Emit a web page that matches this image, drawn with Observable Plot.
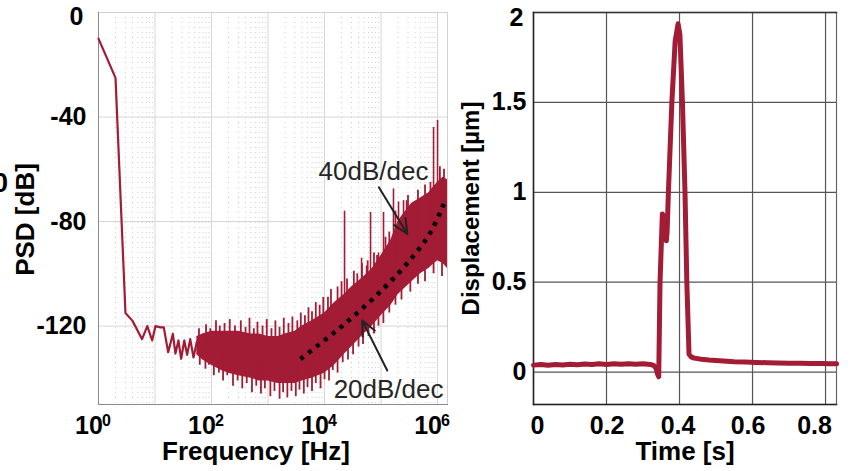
<!DOCTYPE html>
<html><head><meta charset="utf-8">
<script src="https://cdn.jsdelivr.net/npm/d3@7"></script>
<script src="https://cdn.jsdelivr.net/npm/@observablehq/plot@0.6"></script>
<style>
html,body{margin:0;padding:0;background:#fff;}
#wrap{position:relative;width:851px;height:471px;overflow:hidden;background:#fff;}
#left,#right{position:absolute;top:0;}
#left{left:0;} #right{left:440px;}
</style></head><body><div id="wrap"><div id="left"></div><div id="right"></div></div>
<script>
// ---------- Left panel data (PSD) ----------
const lowFreq = [1, 2, 3, 4, 5.9, 7.3, 8.9, 10.2, 12.5, 14.3, 17.1, 20.7, 23, 26, 29, 33, 37, 42, 48, 55, 64];
const lowDb   = [-10, -25, -115, -118, -125, -120, -125.5, -120, -120.5, -120.5, -130, -123, -130.5, -125.5, -132.5, -125.5, -131, -125, -132, -126, -130];

// envelope of the dense noise band
const bandFreq = [55, 70, 100, 150, 200, 300, 500, 700, 1000, 1500, 2000, 3000, 4000, 6000, 10000, 15000, 22000, 30000,
  50000, 70000, 100000, 150000, 200000, 250000, 350000, 500000, 700000, 1000000, 1250000, 1500000];
const bandLo = [-131, -133, -135, -137, -138, -139, -140, -141, -141, -142, -142, -142, -141, -140, -138, -135, -131, -128,
  -123, -120, -116, -112, -108, -106, -103, -100, -98, -95, -96, -98];
const bandHi = [-124, -123, -122, -122, -122, -122, -123, -123, -124, -124, -123, -122, -120, -118, -115, -111, -108, -105,
  -101, -98, -93, -87, -80, -77, -73, -71, -69, -65, -63, -64];

// noise spikes above the band
const upFreq = [60, 80, 95, 120, 140, 170, 210, 260, 330, 400, 470, 560, 650, 800, 950, 1150, 1350, 1600, 1900, 2300, 2700,
  3300, 3800, 4500, 5200, 6000, 7000, 8200, 9500, 11500, 13000, 17000, 20000, 25000, 33000, 38000, 46000, 58000, 75000,
  85000, 120000, 140000, 180000, 300000, 450000, 600000, 750000, 1100000, 1300000];
const upDb = [-121, -119.5, -121, -118, -120, -119, -117.5, -120, -118, -120.5, -117, -121, -118.5, -120, -117.5, -121, -118,
  -120.5, -117, -119, -116.5, -118, -115, -116, -113, -114.5, -111, -112, -109, -109, -106, -105, -103, -102, -99, -100, -96,
  -95, -92, -93, -86, -84, -76, -70, -68, -66, -65, -59, -60];
// noise spikes below the band
const downFreq = [62, 78, 90, 110, 135, 160, 190, 240, 290, 350, 420, 520, 620, 750, 880, 1100, 1300, 1600, 1850, 2200, 2600,
  3100, 3600, 4300, 5000, 6000, 7000, 8500, 10000, 12000, 14000, 17000, 21000, 26000, 32000, 40000, 48000, 60000, 75000,
  90000, 110000, 140000, 180000, 230000, 330000, 450000, 600000, 850000, 1200000];
const downDb = [-135, -136.5, -135, -139, -138, -141, -139, -143, -141, -144, -142, -145.5, -143, -146, -144, -147, -145, -148,
  -145.5, -147.5, -145, -147, -144.5, -146, -143.5, -145, -142, -144, -140.5, -141, -137, -138, -134, -133, -131, -128, -127,
  -124, -123, -120, -119, -115, -112, -110, -107, -104, -103, -100, -101];

// tall harmonic spikes
const peakFreq = [22600, 45200, 55400, 65200, 90300, 110600, 166000, 204000, 250000, 283000, 850000, 1000000];
const peakDb   = [-76, -94, -97, -76.5, -92, -76.5, -67.5, -72.5, -72, -72, -44, -41.3];

const fitFreq = [3760, 22000, 109000, 357000, 752000, 1290000];
const fitDb   = [-132.6, -119.4, -105.8, -93.7, -84.1, -73.2];

const noteText = ["40dB/dec", "20dB/dec"];
const noteFreq = [73600, 136000];
const noteDb   = [-60.9, -144.3];
const arrowF1 = [91400, 128800], arrowDb1 = [-66.9, -137.0];
const arrowF2 = [291000, 46500], arrowDb2 = [-84.7, -117.9];

const psdTicks = [0, -40, -80, -120];
const freqTicks = [1, 1e2, 1e4, 1e6];
const freqExp = ["0", "2", "4", "6"];

// ---------- Right panel data (displacement) ----------
const timeS = [0, 0.02, 0.04, 0.06, 0.08, 0.10, 0.12, 0.14, 0.16, 0.18, 0.20, 0.22, 0.24, 0.26, 0.28, 0.30, 0.32, 0.33, 0.336, 0.340, 0.343,
  0.3466, 0.353, 0.358, 0.362, 0.364, 0.366, 0.3695, 0.379, 0.388, 0.396, 0.401, 0.408, 0.415, 0.420, 0.426, 0.432,
  0.44, 0.46, 0.48, 0.50, 0.52, 0.55, 0.58, 0.61, 0.64, 0.67, 0.70, 0.73, 0.76, 0.79, 0.81, 0.83];
const dispUm = [0.039, 0.042, 0.038, 0.043, 0.040, 0.044, 0.041, 0.045, 0.042, 0.046, 0.043, 0.046, 0.044, 0.047, 0.044, 0.046, 0.043, 0.036, 0.020, -0.012, -0.026,
  0.50, 0.88, 0.86, 0.80, 0.73, 0.78, 1.0, 1.5, 1.84, 1.937, 1.88, 1.5, 1.0, 0.5, 0.10, 0.085,
  0.078, 0.072, 0.068, 0.065, 0.062, 0.058, 0.056, 0.054, 0.052, 0.051, 0.050, 0.049, 0.048, 0.048, 0.047, 0.047];
const timeTicks = [0, 0.2, 0.4, 0.6, 0.8];
const timeTickLabels = ["0", "0.2", "0.4", "0.6", "0.8"];
const dispTicks = [0, 0.5, 1, 1.5, 2];
const dispTickLabels = ["0", "0.5", "1", "1.5", "2"];

// ---------- Build ----------
const crimson = "#a31c35";
const font = "'Liberation Sans', Arial, Helvetica, sans-serif";

const lowLine = lowFreq.map((f, i) => ({f, db: lowDb[i]}));
const band = bandFreq.map((f, i) => ({f, lo: bandLo[i], hi: bandHi[i]}));
// a hidden base point inside the band for each noise spike
const midAt = f => {
  const lf = Math.log10(f);
  let k = 0;
  while (k < bandFreq.length - 2 && Math.log10(bandFreq[k + 1]) < lf) k++;
  const a = Math.log10(bandFreq[k]), b = Math.log10(bandFreq[k + 1]);
  const t = Math.max(0, Math.min(1, (lf - a) / (b - a)));
  const m0 = (bandLo[k] + bandHi[k]) / 2, m1 = (bandLo[k + 1] + bandHi[k + 1]) / 2;
  return m0 + t * (m1 - m0);
};
const noise = upFreq.map((f, i) => ({f, tip: upDb[i]}))
  .concat(downFreq.map((f, i) => ({f, tip: downDb[i]})))
  .map(d => ({...d, base: midAt(d.f)}));
const peaks = peakFreq.map((f, i) => ({f, tip: peakDb[i], base: midAt(f)}));
const fit = fitFreq.map((f, i) => ({f, db: fitDb[i]}));
const notes = noteText.map((t, i) => ({t, f: noteFreq[i], db: noteDb[i]}));
const arrows = arrowF1.map((f, i) => ({x1: f, y1: arrowDb1[i], x2: arrowF2[i], y2: arrowDb2[i]}));

const allLog = d3.scaleLog().domain([1, 1.5e6]).ticks();
const isDecade = f => Math.abs(Math.log10(f) - Math.round(Math.log10(f))) < 1e-9;
const minorF = allLog.filter(f => !isDecade(f));
const decadeF = allLog.filter(isDecade);

const bold = {fontWeight: "bold", fill: "#000"};

const left = Plot.plot({
  width: 460, height: 471,
  marginLeft: 98, marginRight: 13, marginTop: 12, marginBottom: 67,
  style: {background: "transparent", fontFamily: font, overflow: "visible"},
  x: {type: "log", domain: [1, 1.5e6], axis: null},
  y: {domain: [-150, 0], axis: null},
  marks: [
    Plot.ruleX(minorF, {stroke: "#cfcfcf", strokeDasharray: "1,4"}),
    Plot.ruleX(decadeF, {stroke: "#d6d6d6"}),
    Plot.ruleY(psdTicks, {stroke: "#d6d6d6"}),
    Plot.frame({stroke: "#d0d0d0"}),
    Plot.frame({anchor: "left", stroke: "#8a8a8a"}),
    Plot.frame({anchor: "bottom", stroke: "#8a8a8a"}),
    Plot.areaY(band, {x: "f", y1: "lo", y2: "hi", fill: crimson}),
    Plot.ruleX(noise, {x: "f", y1: "base", y2: "tip", stroke: crimson, strokeWidth: 1.8}),
    Plot.ruleX(peaks, {x: "f", y1: "base", y2: "tip", stroke: crimson, strokeWidth: 1.6}),
    Plot.line(lowLine, {x: "f", y: "db", stroke: crimson, strokeWidth: 2.2}),
    Plot.line(fit, {x: "f", y: "db", stroke: "#000", strokeWidth: 4.5, strokeDasharray: "4,6", strokeLinecap: "butt", curve: "catmull-rom"}),
    Plot.arrow(arrows, {x1: "x1", y1: "y1", x2: "x2", y2: "y2", stroke: "#222", strokeWidth: 2, headLength: 12, headAngle: 50}),
    Plot.text(notes, {x: "f", y: "db", text: "t", fontSize: 26, fill: "#262626", lineAnchor: "middle"}),
    Plot.text(psdTicks.slice(1), {y: d => d, frameAnchor: "left", dx: -12, textAnchor: "end", lineAnchor: "middle", text: d => String(d), fontSize: 25, ...bold}),
    Plot.text(psdTicks.slice(0, 1), {y: d => d, frameAnchor: "left", dx: -15, dy: 4, textAnchor: "end", lineAnchor: "middle", text: d => String(d), fontSize: 25, ...bold}),
    Plot.text(freqTicks, {x: d => d, frameAnchor: "bottom", dy: 21, dx: -9.5, lineAnchor: "middle", text: () => "10", fontSize: 25, ...bold}),
    Plot.text(freqTicks, {x: d => d, frameAnchor: "bottom", dy: 16.5, dx: 8, lineAnchor: "middle", text: (d, i) => freqExp[i], fontSize: 16, ...bold}),
    Plot.text(["Frequency [Hz]"], {frameAnchor: "bottom", dx: -17, dy: 47.5, lineAnchor: "middle", fontSize: 26, ...bold}),
    Plot.text(["PSD [dB]"], {frameAnchor: "left", dx: -73, dy: 11, rotate: -90, textAnchor: "middle", lineAnchor: "middle", fontSize: 26, ...bold}),
    Plot.text(["0"], {frameAnchor: "left", dx: -98, dy: -25, textAnchor: "middle", lineAnchor: "middle", fontSize: 27, ...bold})
  ]
});
document.getElementById("left").appendChild(left);

const disp = timeS.map((t, i) => ({t, v: dispUm[i]}));
const timeLabelDx = [4, 0.5, -1.5, -4.5, -11];

const right = Plot.plot({
  width: 411, height: 471,
  marginLeft: 93, marginRight: 15, marginTop: 12, marginBottom: 67,
  style: {background: "transparent", fontFamily: font, overflow: "visible"},
  x: {domain: [0, 0.83], axis: null},
  y: {domain: [-0.18, 2], axis: null},
  marks: [
    Plot.ruleX(timeTicks, {stroke: "#555", strokeWidth: 1.2}),
    Plot.ruleY(dispTicks, {stroke: "#555", strokeWidth: 1.2}),
    Plot.frame({stroke: "#666", strokeWidth: 1.2}),
    Plot.frame({anchor: "left", stroke: "#222", strokeWidth: 1.4}),
    Plot.frame({anchor: "bottom", stroke: "#222", strokeWidth: 1.4}),
    Plot.frame({anchor: "top", stroke: "#333", strokeWidth: 1.4}),
    Plot.line(disp, {x: "t", y: "v", stroke: crimson, strokeWidth: 5, strokeLinejoin: "round", strokeLinecap: "round"}),
    ...timeTicks.map((t, i) => Plot.text([t], {x: d => d, frameAnchor: "bottom", dy: 21, dx: timeLabelDx[i], lineAnchor: "middle", text: () => timeTickLabels[i], fontSize: 25, ...bold})),
    Plot.text(dispTicks.slice(0, 4), {y: d => d, frameAnchor: "left", dx: -7, textAnchor: "end", lineAnchor: "middle", text: (d, i) => dispTickLabels[i], fontSize: 25, ...bold}),
    Plot.text(dispTicks.slice(4), {y: d => d, frameAnchor: "left", dx: -10, dy: 5, textAnchor: "end", lineAnchor: "middle", text: () => dispTickLabels[4], fontSize: 25, ...bold}),
    Plot.text(["Time [s]"], {frameAnchor: "bottom", dy: 47.5, lineAnchor: "middle", fontSize: 26, ...bold}),
    Plot.text(["Displacement [µm]"], {frameAnchor: "left", dx: -62, rotate: -90, textAnchor: "middle", lineAnchor: "middle", fontSize: 24, ...bold})
  ]
});
document.getElementById("right").appendChild(right);
</script>
</body></html>
